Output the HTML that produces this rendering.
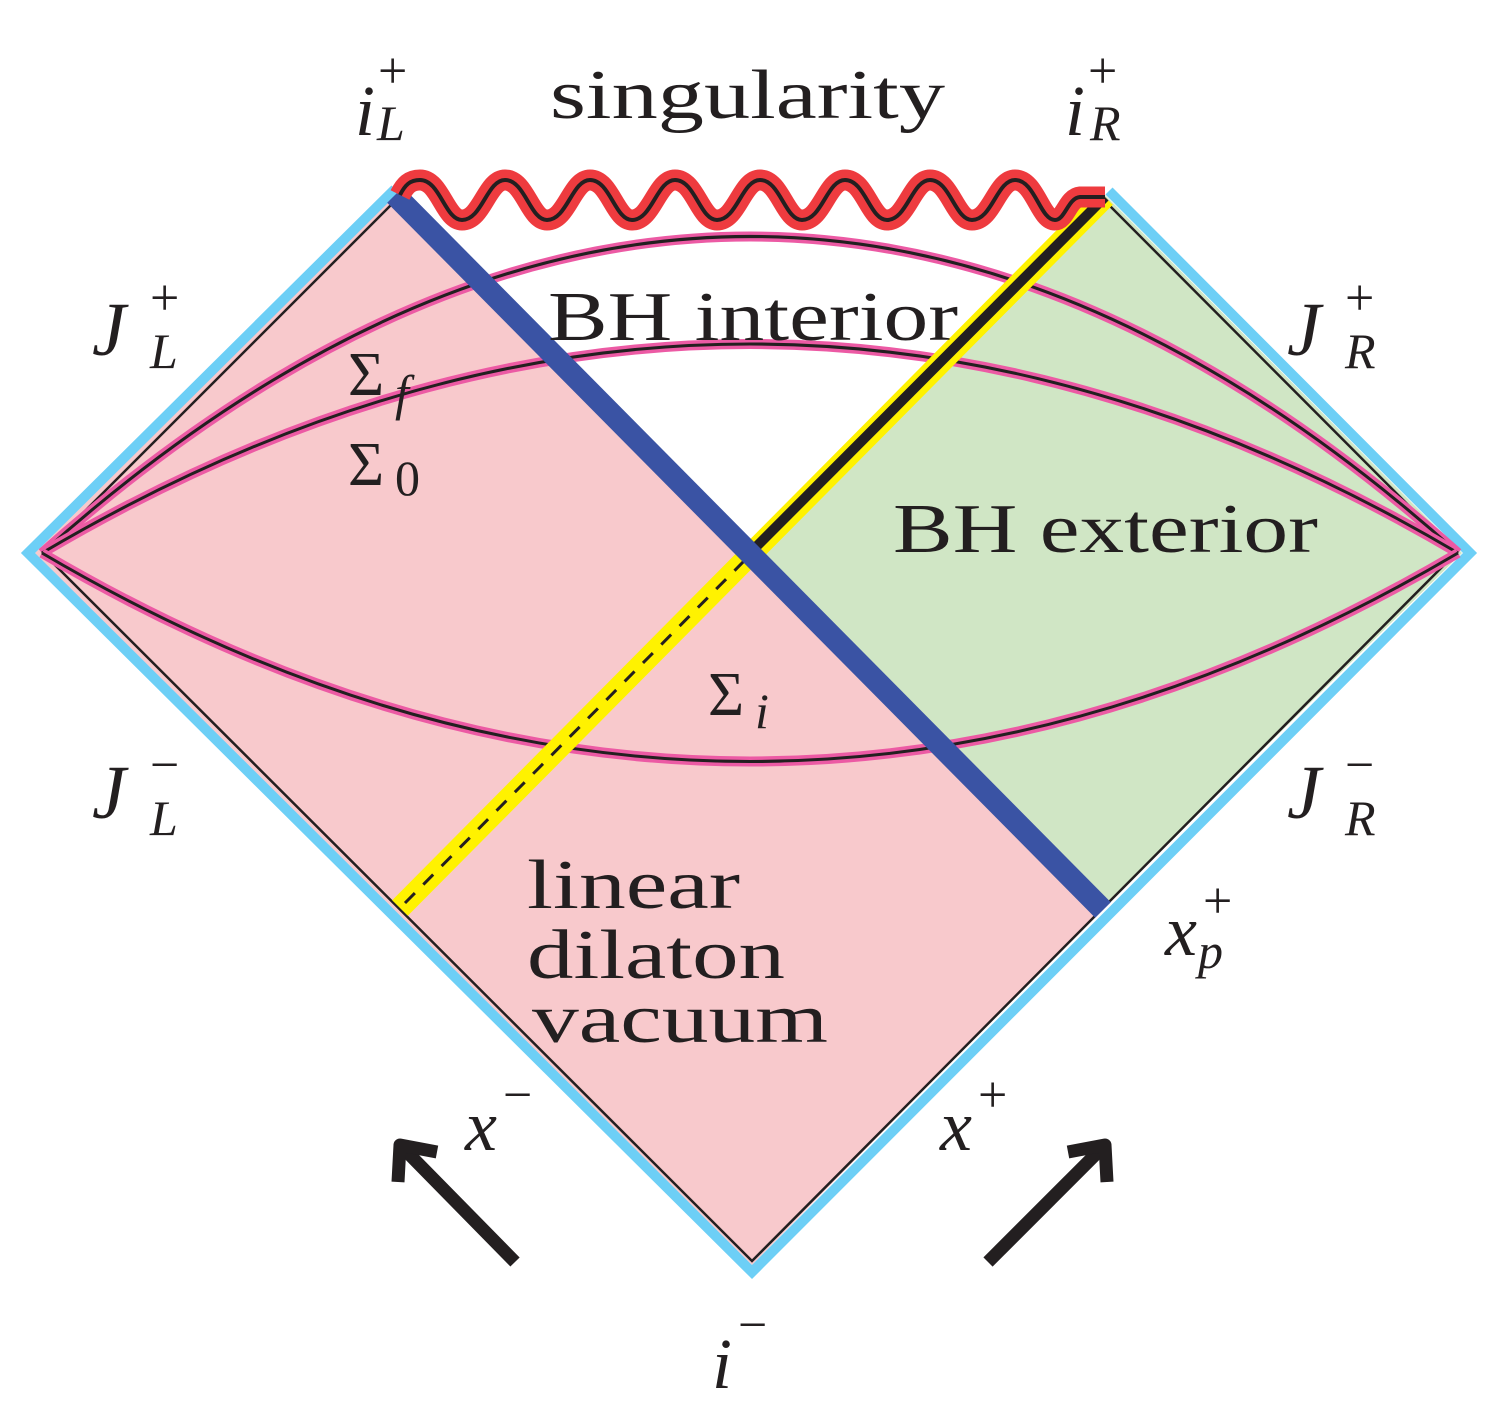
<!DOCTYPE html>
<html><head><meta charset="utf-8"><style>
html,body{margin:0;padding:0;background:#fff;}
svg{display:block;}
text{font-family:"Liberation Serif",serif;fill:#231f20;}
.it{font-style:italic;}
</style></head><body>
<svg width="1500" height="1414" viewBox="0 0 1500 1414" xmlns="http://www.w3.org/2000/svg">
<polygon points="395,195 35,553 752,1265 1100,910 752,553" fill="#f8c9cc"/>
<polygon points="1105,195 1462,553 1100,910 752,553" fill="#d0e6c5"/>
<polygon points="395,195 1105,195 752,553" fill="#fff"/>
<polyline points="395,189 28,553 752,1272 1470,553 1109,191" fill="none" stroke="#6dcff6" stroke-width="10"/>
<polyline points="395,201 43,553 752,1261 1456,553 1103,199" fill="none" stroke="#231f20" stroke-width="2.5"/>
<g fill="none">
<path d="M42,553 Q750,-80 1458,553" stroke="#ec5aa4" stroke-width="10"/>
<path d="M42,553 Q750,-80 1458,553" stroke="#231f20" stroke-width="3"/>
<path d="M42,553 Q750,135 1458,553" stroke="#ec5aa4" stroke-width="10"/>
<path d="M42,553 Q750,135 1458,553" stroke="#231f20" stroke-width="3"/>
<path d="M42,553 Q750,970 1458,553" stroke="#ec5aa4" stroke-width="10"/>
<path d="M42,553 Q750,970 1458,553" stroke="#231f20" stroke-width="3"/>
</g>
<line x1="400" y1="908" x2="1105" y2="197" stroke="#fff200" stroke-width="22"/>
<line x1="752" y1="551" x2="1105" y2="197" stroke="#231f20" stroke-width="10"/>
<line x1="405" y1="903" x2="752" y2="553" stroke="#231f20" stroke-width="3" stroke-dasharray="14,12"/>
<line x1="395" y1="195" x2="1103" y2="910" stroke="#3a53a4" stroke-width="22"/>
<g fill="none">
<path d="M400,195 C405,185 410,180 420,180 C440,180 445,220 462,220 C482,220 487,180 505,180 C525,180 530,220 547,220 C567,220 572,180 590,180 C610,180 615,220 632,220 C652,220 657,180 675,180 C695,180 700,220 717,220 C737,220 742,180 760,180 C780,180 785,220 802,220 C822,220 827,180 845,180 C865,180 870,220 887,220 C907,220 912,180 930,180 C950,180 955,220 972,220 C992,220 997,180 1015,180 C1035,180 1040,220 1055,220 C1065,220 1068,198 1080,197 L1105,197" stroke="#ee3b3f" stroke-width="21"/>
<path d="M400,195 C405,185 410,180 420,180 C440,180 445,220 462,220 C482,220 487,180 505,180 C525,180 530,220 547,220 C567,220 572,180 590,180 C610,180 615,220 632,220 C652,220 657,180 675,180 C695,180 700,220 717,220 C737,220 742,180 760,180 C780,180 785,220 802,220 C822,220 827,180 845,180 C865,180 870,220 887,220 C907,220 912,180 930,180 C950,180 955,220 972,220 C992,220 997,180 1015,180 C1035,180 1040,220 1055,220 C1065,220 1068,198 1080,197 L1105,197" stroke="#231f20" stroke-width="4"/>
</g>
<g stroke="#231f20" stroke-width="13" fill="none">
<line x1="515" y1="1262" x2="405" y2="1150"/>
<path d="M437,1152 L400,1145 L398,1182" stroke-linejoin="round"/>
<line x1="988" y1="1262" x2="1100" y2="1150"/>
<path d="M1068,1152 L1105,1145 L1107,1182" stroke-linejoin="round"/>
</g>
<text x="550" y="118" font-size="70" textLength="395" lengthAdjust="spacingAndGlyphs">singularity</text>
<text x="355" y="135" font-size="72" class="it">i</text><text x="378" y="88" font-size="52">+</text><text x="377" y="140" font-size="50" class="it">L</text>
<text x="1065" y="135" font-size="72" class="it">i</text><text x="1088" y="88" font-size="52">+</text><text x="1090" y="140" font-size="50" class="it">R</text>
<text x="548" y="340" font-size="70" textLength="410" lengthAdjust="spacingAndGlyphs">BH interior</text>
<text x="893" y="552" font-size="70" textLength="425" lengthAdjust="spacingAndGlyphs">BH exterior</text>
<text x="527" y="908" font-size="70" textLength="213" lengthAdjust="spacingAndGlyphs">linear</text>
<text x="527" y="978" font-size="70" textLength="258" lengthAdjust="spacingAndGlyphs">dilaton</text>
<text x="532" y="1042" font-size="70" textLength="296" lengthAdjust="spacingAndGlyphs">vacuum</text>
<text x="348" y="395" font-size="62">Σ</text><text x="395" y="410" font-size="50" class="it">f</text>
<text x="348" y="485" font-size="62">Σ</text><text x="395" y="495" font-size="50">0</text>
<text x="708" y="715" font-size="62">Σ</text><text x="755" y="728" font-size="50" class="it">i</text>
<text x="92" y="355" font-size="76" class="it">J</text><text x="150" y="315" font-size="52">+</text><text x="150" y="368" font-size="50" class="it">L</text>
<text x="1287" y="355" font-size="76" class="it">J</text><text x="1345" y="315" font-size="52">+</text><text x="1345" y="368" font-size="50" class="it">R</text>
<text x="92" y="818" font-size="76" class="it">J</text><text x="150" y="782" font-size="52">−</text><text x="150" y="835" font-size="50" class="it">L</text>
<text x="1287" y="818" font-size="76" class="it">J</text><text x="1345" y="782" font-size="52">−</text><text x="1345" y="835" font-size="50" class="it">R</text>
<text x="1165" y="955" font-size="72" class="it">x</text><text x="1203" y="918" font-size="52">+</text><text x="1198" y="968" font-size="50" class="it">p</text>
<text x="465" y="1150" font-size="72" class="it">x</text><text x="503" y="1112" font-size="52">−</text>
<text x="940" y="1150" font-size="72" class="it">x</text><text x="978" y="1112" font-size="52">+</text>
<text x="712" y="1388" font-size="72" class="it">i</text><text x="738" y="1342" font-size="52">−</text>
</svg>
</body></html>
